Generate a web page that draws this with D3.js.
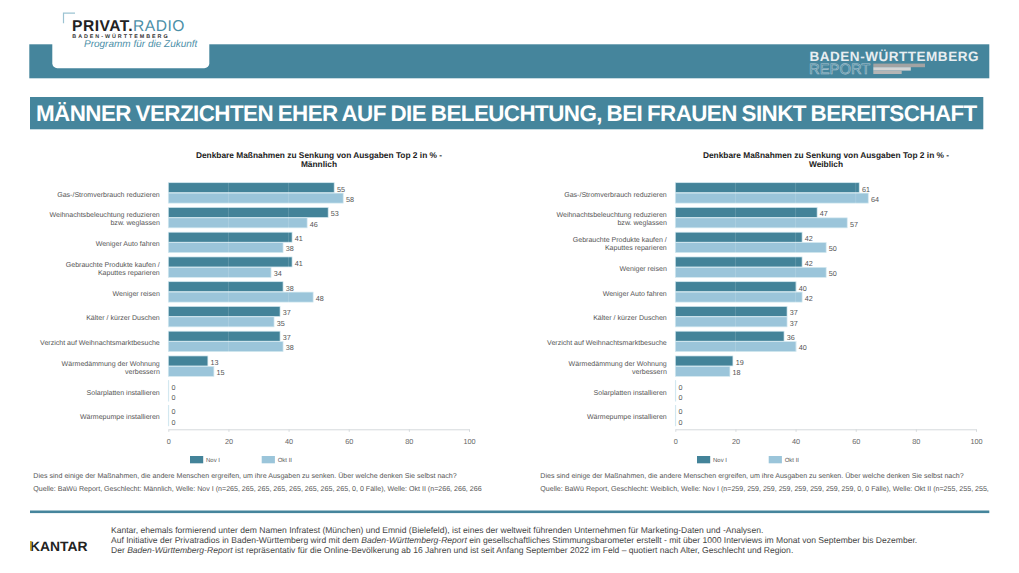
<!DOCTYPE html>
<html>
<head>
<meta charset="utf-8">
<script src="https://cdn.jsdelivr.net/npm/d3@7"></script>
<style>
  html, body { margin: 0; padding: 0; background: #fff; }
  svg { display: block; opacity: 0.999; }
  text { font-family: "Liberation Sans", Arial, sans-serif; text-rendering: geometricPrecision; }
  .axis path, .axis line { stroke: #d5d9dc; stroke-width: 1; }
  .axis text { fill: #666; font-size: 7.3px; font-family: "Liberation Sans", Arial, sans-serif; }
</style>
</head>
<body>
<div id="chart"></div>
<script>
const maleCategories = [
  "Gas-/Stromverbrauch reduzieren",
  "Weihnachtsbeleuchtung reduzieren|bzw. weglassen",
  "Weniger Auto fahren",
  "Gebrauchte Produkte kaufen /|Kaputtes reparieren",
  "Weniger reisen",
  "Kälter / kürzer Duschen",
  "Verzicht auf Weihnachtsmarktbesuche",
  "Wärmedämmung der Wohnung|verbessern",
  "Solarplatten installieren",
  "Wärmepumpe installieren",
];
const maleNov = [55, 53, 41, 41, 38, 37, 37, 13, 0, 0];
const maleOkt = [58, 46, 38, 34, 48, 35, 38, 15, 0, 0];

const femaleCategories = [
  "Gas-/Stromverbrauch reduzieren",
  "Weihnachtsbeleuchtung reduzieren|bzw. weglassen",
  "Gebrauchte Produkte kaufen /|Kaputtes reparieren",
  "Weniger reisen",
  "Weniger Auto fahren",
  "Kälter / kürzer Duschen",
  "Verzicht auf Weihnachtsmarktbesuche",
  "Wärmedämmung der Wohnung|verbessern",
  "Solarplatten installieren",
  "Wärmepumpe installieren",
];
const femaleNov = [61, 47, 42, 42, 40, 37, 36, 19, 0, 0];
const femaleOkt = [64, 57, 50, 50, 42, 37, 40, 18, 0, 0];

const xTicks = [0, 20, 40, 60, 80, 100];
const seriesNames = ["Nov I", "Okt II"];

const question = "Dies sind einige der Maßnahmen, die andere Menschen ergreifen, um ihre Ausgaben zu senken. Über welche denken Sie selbst nach?";
const maleSource = "Quelle: BaWü Report, Geschlecht: Männlich, Welle: Nov I (n=265, 265, 265, 265, 265, 265, 265, 265, 0, 0 Fälle), Welle: Okt II (n=266, 266, 266";
const femaleSource = "Quelle: BaWü Report, Geschlecht: Weiblich, Welle: Nov I (n=259, 259, 259, 259, 259, 259, 259, 259, 0, 0 Fälle), Welle: Okt II (n=255, 255, 255,";

const teal = "#438399";
const lightBlue = "#9bc5da";
const headerTeal = "#45859c";

const svg = d3.select("#chart").append("svg").attr("width", 1019).attr("height", 573);

// header band and logo
svg.append("rect").attr("x", 29.3).attr("y", 44.3).attr("width", 960).attr("height", 34).attr("fill", headerTeal);
svg.append("path")
  .attr("d", "M52.3,40 H209.3 V63.3 a5,5 0 0 1 -5,5 H57.3 a5,5 0 0 1 -5,-5 Z")
  .attr("fill", "#fff");
svg.append("path")
  .attr("d", "M63.5,23.3 V13.2 H75")
  .attr("fill", "none").attr("stroke", "#9cc3d2").attr("stroke-width", 1.2);
const logo = svg.append("text").attr("x", 72).attr("y", 31).attr("font-size", 15.6).attr("letter-spacing", 0.5);
logo.append("tspan").attr("fill", "#222").attr("font-weight", "bold").text("PRIVAT.");
logo.append("tspan").attr("fill", "#4b8fa8").text("RADIO");
svg.append("text").attr("x", 72.3).attr("y", 37.5).attr("font-size", 5.4).attr("font-weight", "bold")
  .attr("fill", "#333").attr("letter-spacing", 1.95).text("BADEN-WÜRTTEMBERG");
svg.append("text").attr("x", 84).attr("y", 47.3).attr("font-size", 10).attr("font-style", "italic")
  .attr("fill", "#4b8fa8").text("Programm für die Zukunft");

// report logo
svg.append("text").attr("x", 809.5).attr("y", 60.5).attr("font-size", 13.5).attr("font-weight", "bold")
  .attr("fill", "#e8eef1").attr("letter-spacing", 0.53).text("BADEN-WÜRTTEMBERG");
svg.append("text").attr("x", 809).attr("y", 74).attr("font-size", 14.8).attr("fill", "none")
  .attr("stroke", "#a9c3cf").attr("stroke-width", 0.6).text("REPORT");
svg.append("rect").attr("x", 873.3).attr("y", 63.6).attr("width", 51.7).attr("height", 3.6).attr("fill", "#a3a3a3");
svg.append("rect").attr("x", 873.3).attr("y", 67.2).attr("width", 37.5).attr("height", 3.4).attr("fill", "#d4d4d4");
svg.append("rect").attr("x", 873.3).attr("y", 70.6).attr("width", 28.4).attr("height", 3.4).attr("fill", "#b5b5b5");

// title band
svg.append("rect").attr("x", 30).attr("y", 97).attr("width", 953.3).attr("height", 32.3).attr("fill", headerTeal);
svg.append("text").attr("x", 36).attr("y", 120.8).attr("font-size", 22.4).attr("font-weight", "bold")
  .attr("fill", "#fff").attr("word-spacing", -1).attr("letter-spacing", -0.56)
  .text("MÄNNER VERZICHTEN EHER AUF DIE BELEUCHTUNG, BEI FRAUEN SINKT BEREITSCHAFT");

function drawPanel(left, categories, nov, okt, heading, source) {
  const g = svg.append("g").attr("transform", `translate(${left},0)`);
  const x = d3.scaleLinear().domain([0, 100]).range([0, 300.7]);
  const y = d3.scaleBand().domain(d3.range(categories.length)).range([181.7, 429.2]).paddingInner(0).paddingOuter(0);
  const y1 = d3.scaleBand().domain([0, 1]).range([0, 20.8]).padding(0);

  heading.forEach((line, i) => {
    g.append("text").attr("x", 150.7).attr("y", 158 + i * 9).attr("text-anchor", "middle")
      .attr("font-size", 8.35).attr("font-weight", "bold").attr("fill", "#222").text(line);
  });

  categories.forEach((cat, i) => {
    const row = y(i) + 1;
    [nov[i], okt[i]].forEach((v, s) => {
      const by = row + y1(s);
      g.append("rect").attr("x", x(0)).attr("y", by).attr("width", x(v) + 0.5).attr("height", y1.bandwidth() - 0.4)
        .attr("fill", s === 0 ? teal : lightBlue).attr("stroke", "#d3e8f0").attr("stroke-width", 0.7);
      g.append("text").attr("x", x(v) + 3.2).attr("y", by + 8.8).attr("font-size", 7.2).attr("fill", "#555").text(v);
    });
    const lines = cat.split("|");
    lines.forEach((line, j) => {
      g.append("text").attr("x", -8.5)
        .attr("y", row + 13.8 + (j - (lines.length - 1) / 2) * 8)
        .attr("text-anchor", "end").attr("font-size", 7.05).attr("fill", "#555").text(line);
    });
  });

  // faint gridlines sit on top of the bars
  xTicks.slice(1, -1).forEach((t) => {
    g.append("line").attr("x1", x(t)).attr("x2", x(t)).attr("y1", 181.7).attr("y2", 429)
      .attr("stroke", "#fff").attr("stroke-opacity", 0.22).attr("stroke-width", 0.7);
  });

  g.append("g").attr("class", "axis").attr("transform", "translate(0,429.3)")
    .call(d3.axisBottom(x).tickValues(xTicks).tickSize(2.5).tickPadding(7).tickSizeOuter(0));

  // legend
  [190 - 168.3, 261.7 - 168.3].forEach((lx, i) => {
    g.append("rect").attr("x", lx).attr("y", 456).attr("width", 13.2).attr("height", 7.3)
      .attr("fill", i === 0 ? teal : lightBlue);
    g.append("text").attr("x", lx + 16).attr("y", 462.2).attr("font-size", 6).attr("fill", "#555").text(seriesNames[i]);
  });

  // notes
  g.append("text").attr("x", -135).attr("y", 477.5).attr("font-size", 7.08).attr("fill", "#555").text(question);
  g.append("text").attr("x", -135).attr("y", 490.5).attr("font-size", 7.08).attr("fill", "#555").text(source);
}

drawPanel(168.3, maleCategories, maleNov, maleOkt, ["Denkbare Maßnahmen zu Senkung von Ausgaben Top 2 in % -", "Männlich"], maleSource);
drawPanel(675.3, femaleCategories, femaleNov, femaleOkt, ["Denkbare Maßnahmen zu Senkung von Ausgaben Top 2 in % -", "Weiblich"], femaleSource);

// footer
svg.append("rect").attr("x", 30).attr("y", 510.5).attr("width", 959.3).attr("height", 2.6).attr("fill", headerTeal);
svg.append("text").attr("x", 30).attr("y", 550.7).attr("font-size", 13.5).attr("font-weight", "bold")
  .attr("fill", "#222").attr("textLength", 57.5).attr("lengthAdjust", "spacingAndGlyphs").text("KANTAR");
svg.append("rect").attr("x", 30).attr("y", 541).attr("width", 1.7).attr("height", 9.7).attr("fill", "#c9a227");

const footer1 = svg.append("text").attr("x", 111).attr("y", 532.5).attr("font-size", 8.55).attr("fill", "#444");
footer1.text("Kantar, ehemals formierend unter dem Namen Infratest (München) und Emnid (Bielefeld), ist eines der weltweit führenden Unternehmen für Marketing-Daten und -Analysen.");
const footer2 = svg.append("text").attr("x", 111).attr("y", 543).attr("font-size", 8.55).attr("fill", "#444");
footer2.append("tspan").text("Auf Initiative der Privatradios in Baden-Württemberg wird mit dem ");
footer2.append("tspan").attr("font-style", "italic").text("Baden-Württemberg-Report");
footer2.append("tspan").text(" ein gesellschaftliches Stimmungsbarometer erstellt - mit über 1000 Interviews im Monat von September bis Dezember.");
const footer3 = svg.append("text").attr("x", 111).attr("y", 553).attr("font-size", 8.55).attr("fill", "#444");
footer3.append("tspan").text("Der ");
footer3.append("tspan").attr("font-style", "italic").text("Baden-Württemberg-Report");
footer3.append("tspan").text(" ist repräsentativ für die Online-Bevölkerung ab 16 Jahren und ist seit Anfang September 2022 im Feld – quotiert nach Alter, Geschlecht und Region.");
</script>
</body>
</html>
